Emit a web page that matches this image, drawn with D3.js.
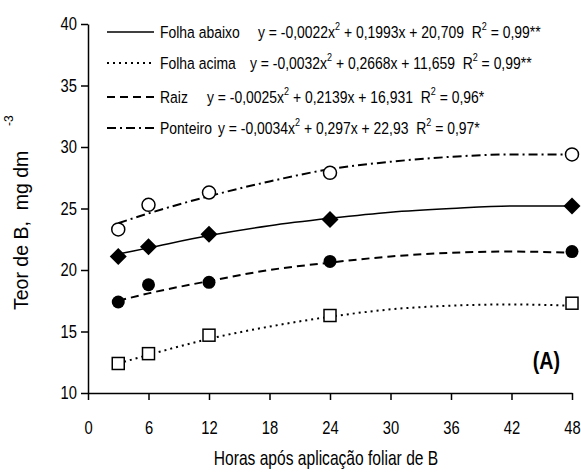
<!DOCTYPE html>
<html>
<head>
<meta charset="utf-8">
<script src="https://cdn.jsdelivr.net/npm/d3@7"></script>
<style>
  body { margin: 0; background: #fff; }
  text { font-family: "Liberation Sans", Arial, sans-serif; fill: #000; white-space: pre; }
</style>
</head>
<body>
<div id="chart"></div>
<script>
// observed points (hours after foliar B application)
const hours = [3, 6, 12, 24, 48];
const folhaAbaixo = [21.1, 21.9, 22.9, 24.1, 25.2];
const folhaAcima = [12.4, 13.2, 14.7, 16.3, 17.3];
const raiz = [17.4, 18.8, 19.0, 20.7, 21.5];
const ponteiro = [23.3, 25.3, 26.3, 27.9, 29.4];

// fitted curves
const curveHours = [3, 6, 12, 18, 24, 30, 36, 42, 48];
const fitAbaixo = [21.3, 21.8, 22.8, 23.6, 24.2, 24.7, 25.0, 25.2, 25.2];
const fitAcima = [12.4, 13.1, 14.4, 15.4, 16.2, 16.8, 17.1, 17.2, 17.1];
const fitRaiz = [17.5, 18.1, 19.1, 20.0, 20.6, 21.1, 21.4, 21.5, 21.4];
const fitPonteiro = [23.8, 24.6, 26.0, 27.2, 28.2, 28.8, 29.2, 29.4, 29.4];

const xTicks = [0, 6, 12, 18, 24, 30, 36, 42, 48];
const yTicks = [10, 15, 20, 25, 30, 35, 40];

const legendNames = ["Folha abaixo", "Folha acima", "Raiz", "Ponteiro"];
const legendEq = [
  ["y = -0,0022x", " + 0,1993x + 20,709  R", " = 0,99**"],
  ["y = -0,0032x", " + 0,2668x + 11,659  R", " = 0,99**"],
  ["y = -0,0025x", " + 0,2139x + 16,931  R", " = 0,96*"],
  ["y = -0,0034x", " + 0,297x + 22,93  R", " = 0,97*"]
];

const width = 581, height = 474;
const margin = {top: 24, right: 9, bottom: 81, left: 88};
const narrow = 0.82;   // no Arial Narrow here, squeeze Liberation Sans instead

const svg = d3.select("#chart").append("svg")
  .attr("width", width)
  .attr("height", height);

const x = d3.scaleLinear().domain([0, 48]).range([margin.left, width - margin.right]);
const y = d3.scaleLinear().domain([10, 40]).range([height - margin.bottom, margin.top]);

const dashes = ["none", "2,4", "8,5", "9,4,2,4"];
const widths = [1.5, 2, 2, 2];

const series = [
  {name: "Folha abaixo", pts: folhaAbaixo, fit: fitAbaixo, marker: "diamond"},
  {name: "Folha acima", pts: folhaAcima, fit: fitAcima, marker: "square"},
  {name: "Raiz", pts: raiz, fit: fitRaiz, marker: "dot"},
  {name: "Ponteiro", pts: ponteiro, fit: fitPonteiro, marker: "circle"}
];

const narrowText = (g, tx, ty, size) => g.append("text")
  .attr("transform", `translate(${tx},${ty}) scale(${narrow},1)`)
  .attr("font-size", size);

// axes
const xAxis = g => g
  .attr("transform", `translate(0,${y(10)})`)
  .call(d3.axisBottom(x).tickValues(xTicks).tickSize(7).tickSizeOuter(0).tickPadding(21))
  .call(g => g.selectAll("path,line").attr("stroke", "#000").attr("stroke-width", 1.5))
  .call(g => g.selectAll(".tick text")
    .attr("font-size", 18)
    .attr("font-family", null)
    .attr("transform", `scale(${narrow},1)`));

const yAxis = g => g
  .attr("transform", `translate(${x(0)},0)`)
  .call(d3.axisLeft(y).tickValues(yTicks).tickSize(7).tickSizeOuter(0).tickPadding(6.4))
  .call(g => g.selectAll("path,line").attr("stroke", "#000").attr("stroke-width", 1.5))
  .call(g => g.selectAll(".tick text")
    .attr("font-size", 18)
    .attr("font-family", null)
    .attr("transform", `scale(${narrow},1)`));

svg.append("g").call(xAxis);
svg.append("g").call(yAxis);

// fitted lines
const line = d3.line()
  .x((d, i) => x(curveHours[i]))
  .y(d => y(d))
  .curve(d3.curveMonotoneX);

svg.append("g")
  .selectAll("path")
  .data(series)
  .join("path")
  .attr("d", d => line(d.fit))
  .attr("fill", "none")
  .attr("stroke", "#000")
  .attr("stroke-width", (d, i) => widths[i])
  .attr("stroke-dasharray", (d, i) => dashes[i]);

// markers
series.forEach(s => {
  const g = svg.append("g");
  s.pts.forEach((v, i) => {
    const cx = x(hours[i]), cy = y(v);
    if (s.marker === "diamond") {
      g.append("path")
        .attr("d", `M${cx},${cy - 8.5}L${cx + 8.5},${cy}L${cx},${cy + 8.5}L${cx - 8.5},${cy}Z`)
        .attr("fill", "#000");
    } else if (s.marker === "square") {
      g.append("rect")
        .attr("x", cx - 6).attr("y", cy - 6)
        .attr("width", 12).attr("height", 12)
        .attr("fill", "#fff").attr("stroke", "#000").attr("stroke-width", 1.5);
    } else if (s.marker === "dot") {
      g.append("circle").attr("cx", cx).attr("cy", cy).attr("r", 6.5).attr("fill", "#000");
    } else {
      g.append("circle").attr("cx", cx).attr("cy", cy).attr("r", 6.5)
        .attr("fill", "#fff").attr("stroke", "#000").attr("stroke-width", 1.5);
    }
  });
});

// legend
const rowY = [32, 63, 97, 128];
const eqX = [258, 250, 207, 218];
const legend = svg.append("g");

legendNames.forEach((name, i) => {
  legend.append("line")
    .attr("x1", 107).attr("x2", 154)
    .attr("y1", rowY[i]).attr("y2", rowY[i])
    .attr("stroke", "#000")
    .attr("stroke-width", widths[i])
    .attr("stroke-dasharray", dashes[i]);
  narrowText(legend, 160, rowY[i] + 6, 17).text(name);
  const t = narrowText(legend, eqX[i], rowY[i] + 6, 17);
  t.append("tspan").text(legendEq[i][0]);
  t.append("tspan").attr("font-size", 11).attr("dy", -8).text("2");
  t.append("tspan").attr("dy", 8).text(legendEq[i][1]);
  t.append("tspan").attr("font-size", 11).attr("dy", -8).text("2");
  t.append("tspan").attr("dy", 8).text(legendEq[i][2]);
});

// panel label
narrowText(svg, 560, 369, 24)
  .attr("text-anchor", "end")
  .attr("font-weight", "bold")
  .text("(A)");

// axis titles
svg.append("text")
  .attr("transform", `translate(326,465) scale(0.78,1)`)
  .attr("text-anchor", "middle")
  .attr("font-size", 20)
  .text("Horas após aplicação foliar de B");

const yt = svg.append("g").attr("transform", "translate(28,310) rotate(-90)");
yt.append("text")
  .attr("font-size", 19.5)
  .text("Teor de B,  mg dm");
yt.append("text")
  .attr("x", 184).attr("y", -15)
  .attr("font-size", 12)
  .text("-3");
</script>
</body>
</html>
